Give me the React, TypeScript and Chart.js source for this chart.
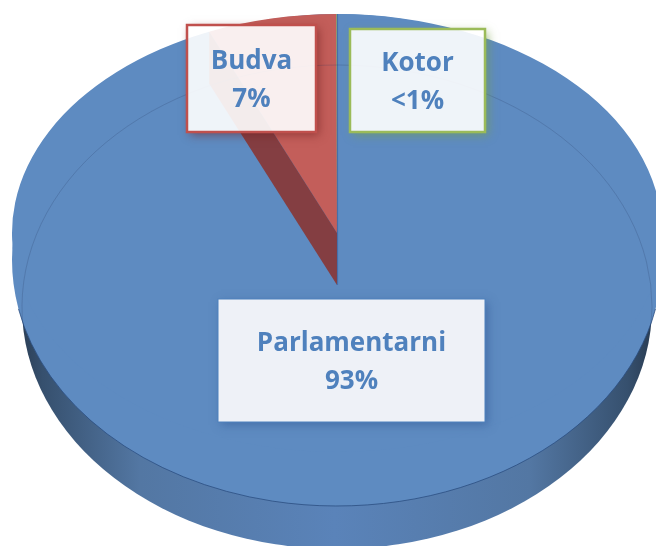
import React, { useEffect, useRef } from "react";
import { Chart, registerables } from "chart.js";

Chart.register(...registerables);

const categories = ["Parlamentarni", "Budva", "Kotor"];
const seriesValues = [93.57, 6.4, 0.03];
const percentLabels = ["93%", "7%", "<1%"];
const sliceColors = ["#5e8bc1", "#c35e5a", "#9bbb59"];
const labelBorders = ["#4f81bd", "#c0504d", "#9bbb59"];
const labelFills = ["rgba(238,241,247,1)", "rgba(255,255,255,0.9)", "rgba(255,255,255,0.9)"];
const labelShadows = ["rgba(50,90,150,0.55)", "rgba(110,30,30,0.55)", "rgba(120,160,70,0.65)"];

const W = 656;
const H = 546;
// label boxes: x, y, w, h
const BOXES = [
  [218, 299, 267, 123],
  [187, 25, 129, 107],
  [350, 29, 135, 103],
];
const BORDER_W = [1, 2.5, 2.5];
// projected geometry
const APEX = { x: 337, y: 233 };
const FACE = { x: 337, y: 260, rx: 325, ry: 246 };
const BASE = { x: 337, y: 307, rx: 315, ry: 242 };
const WEDGE_RY = 219;
const DEPTH = 52;

const pie3d = {
  id: "pie3d",
  beforeDatasetsDraw(chart: any) {
    const ctx = chart.ctx;
    ctx.save();
    // side wall
    const g = ctx.createLinearGradient(10, 0, 660, 0);
    g.addColorStop(0, "#26364a");
    g.addColorStop(0.05, "#36506e");
    g.addColorStop(0.2, "#5377a3");
    g.addColorStop(0.5, "#5a83b9");
    g.addColorStop(0.8, "#5377a3");
    g.addColorStop(0.95, "#36506e");
    g.addColorStop(1, "#26364a");
    ctx.fillStyle = g;
    ctx.beginPath();
    ctx.ellipse(BASE.x, BASE.y, BASE.rx, BASE.ry, 0, 0, Math.PI * 2);
    ctx.fill();
    // top face
    ctx.fillStyle = sliceColors[0];
    ctx.beginPath();
    ctx.ellipse(FACE.x, FACE.y, FACE.rx, FACE.ry, 0, 0, Math.PI * 2);
    ctx.fill();
    // front edge of the top face
    ctx.strokeStyle = "rgba(40,75,125,0.75)";
    ctx.lineWidth = 1;
    ctx.beginPath();
    ctx.ellipse(FACE.x, FACE.y, FACE.rx, FACE.ry, 0, 0.2, Math.PI - 0.2);
    ctx.stroke();
    ctx.restore();

    // map the library's circular pie on the tilted face
    const arc = chart.getDatasetMeta(0).data[0];
    const R = arc.outerRadius;
    ctx.save();
    ctx.translate(APEX.x, APEX.y);
    ctx.scale(FACE.rx / R, WEDGE_RY / R);
    ctx.translate(-arc.x, -arc.y);
  },
  afterDatasetsDraw(chart: any) {
    const ctx = chart.ctx;
    ctx.restore();
    const arc = chart.getDatasetMeta(0).data[1];
    const a = arc.startAngle;
    const rimX = APEX.x + FACE.rx * Math.cos(a);
    const rimY = APEX.y + WEDGE_RY * Math.sin(a);
    // exposed cut face of the wedge
    ctx.save();
    ctx.fillStyle = "#843e42";
    ctx.beginPath();
    ctx.moveTo(APEX.x, APEX.y);
    ctx.lineTo(APEX.x, APEX.y + DEPTH);
    ctx.lineTo(rimX, rimY + DEPTH);
    ctx.lineTo(rimX, rimY);
    ctx.closePath();
    ctx.fill();
    // seam at twelve o'clock
    ctx.strokeStyle = "rgba(60,100,160,0.7)";
    ctx.lineWidth = 1.2;
    ctx.beginPath();
    ctx.moveTo(APEX.x + 0.5, APEX.y - WEDGE_RY);
    ctx.lineTo(APEX.x + 0.5, APEX.y + DEPTH);
    ctx.stroke();
    // faint rim seen through the top face
    ctx.beginPath();
    ctx.ellipse(FACE.x, FACE.y, FACE.rx, FACE.ry, 0, 0, Math.PI * 2);
    ctx.clip();
    ctx.strokeStyle = "rgba(40,60,100,0.22)";
    ctx.lineWidth = 1;
    ctx.beginPath();
    ctx.ellipse(BASE.x, BASE.y, BASE.rx, BASE.ry, 0, Math.PI * 0.94, Math.PI * 2.06);
    ctx.stroke();
    ctx.restore();
  },
  afterDraw(chart: any) {
    const ctx = chart.ctx;
    categories.forEach((name, i) => {
      const [x, y, w, h] = BOXES[i];
      // shadow outside the box only
      ctx.save();
      ctx.beginPath();
      ctx.rect(0, 0, W, H);
      ctx.rect(x, y, w, h);
      ctx.clip("evenodd");
      ctx.shadowColor = labelShadows[i];
      ctx.shadowBlur = 9;
      ctx.shadowOffsetX = 3;
      ctx.shadowOffsetY = 3;
      ctx.fillStyle = "#000";
      ctx.fillRect(x, y, w, h);
      ctx.restore();

      ctx.save();
      ctx.fillStyle = labelFills[i];
      ctx.fillRect(x, y, w, h);
      ctx.strokeStyle = labelBorders[i];
      ctx.lineWidth = BORDER_W[i];
      ctx.strokeRect(x, y, w, h);
      ctx.fillStyle = "#4f81bd";
      ctx.font = '700 26px "Open Sans"';
      ctx.textAlign = "center";
      ctx.textBaseline = "middle";
      const cx = x + w / 2;
      const cy = y + h / 2;
      ctx.fillText(name, cx, cy - 17);
      ctx.fillText(percentLabels[i], cx, cy + 21);
      ctx.restore();
    });
  },
};

export default function App() {
  const ref = useRef<HTMLCanvasElement>(null);
  useEffect(() => {
    const chart = new Chart(ref.current!, {
      type: "pie",
      data: {
        labels: categories,
        datasets: [
          {
            data: seriesValues,
            backgroundColor: sliceColors,
            borderWidth: 0,
            clip: false,
          } as any,
        ],
      },
      options: {
        responsive: false,
        animation: false,
        plugins: { legend: { display: false }, tooltip: { enabled: false } },
      },
      plugins: [pie3d],
    });
    return () => chart.destroy();
  }, []);
  return (
    <canvas
      ref={ref}
      width={W}
      height={H}
      style={{ position: "fixed", left: 0, top: 0, width: W, height: H, background: "#fff" }}
    />
  );
}
